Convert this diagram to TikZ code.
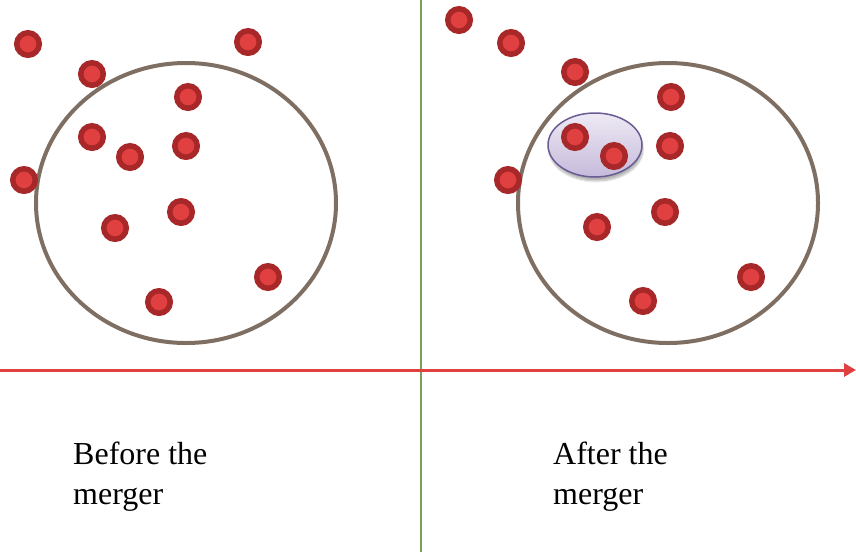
\documentclass[tikz,border=0pt]{standalone}
\usepackage{fontspec}
\setmainfont{Liberation Serif}
\usetikzlibrary{arrows.meta,shadows.blur}
\definecolor{dotfill}{HTML}{E0403F}
\definecolor{dotedge}{HTML}{A8282A}
\definecolor{ringc}{HTML}{7F6F63}
\definecolor{axisred}{HTML}{E0403F}
\definecolor{axisgreen}{HTML}{77A05A}
\definecolor{lavtop}{HTML}{EEEAF4}
\definecolor{lavbot}{HTML}{C6BADB}
\definecolor{lavedge}{HTML}{6B5B95}
\tikzset{
  dot/.style={circle,fill=dotfill,draw=dotedge,line width=5.5pt,minimum size=22.5pt,inner sep=0pt},
  ring/.style={draw=ringc,line width=4pt},
  lbl/.style={anchor=north west,align=left,font=\fontsize{32}{40}\selectfont,inner sep=0pt}
}
\begin{document}
\begin{tikzpicture}[x=1pt,y=-1pt]
\useasboundingbox (0,0) rectangle (856,552);
% rings
\draw[ring] (186,203) ellipse [x radius=150,y radius=140];
\draw[ring] (668,203) ellipse [x radius=150,y radius=140];
% merged group
\draw[lavedge,line width=1.5pt,top color=lavtop,bottom color=lavbot,blur shadow={shadow xshift=1pt,shadow yshift=-4pt,shadow blur steps=8,shadow opacity=30}] (595,145) ellipse [x radius=47,y radius=32];
% left dots
\foreach \p/\n in {{(28,44)}/a1,{(92,74)}/a2,{(248,42)}/a3,{(188,97)}/a4,{(92,137)}/a5,{(130,157)}/a6,{(186,146)}/a7,{(24,180)}/a8,{(181,212)}/a9,{(115,228)}/a10,{(268,277)}/a11,{(159,302)}/a12}
  \node[dot] (\n) at \p {};
% right dots
\foreach \p/\n in {{(459,20)}/b1,{(511,43)}/b2,{(575,72)}/b3,{(671,97)}/b4,{(575,137)}/b5,{(614,156)}/b6,{(670,146)}/b7,{(508,180)}/b8,{(665,212)}/b9,{(597,227)}/b10,{(751,277)}/b11,{(643,301)}/b12}
  \node[dot] (\n) at \p {};
% axes
\coordinate (vtop) at (421,0);
\coordinate (vbot) at (421,552);
\coordinate (hl) at (0,370);
\coordinate (hr) at (856,370);
\draw[axisgreen,line width=2pt] (vtop) -- (vbot);
\draw[axisred,line width=3pt,-{Triangle[length=12pt,width=13pt]}] (hl) -- (hr);
% labels
\node[lbl] (before) at (73,442) {Before the\\merger};
\node[lbl] (after) at (553,442) {After the\\merger};
\end{tikzpicture}
\end{document}
